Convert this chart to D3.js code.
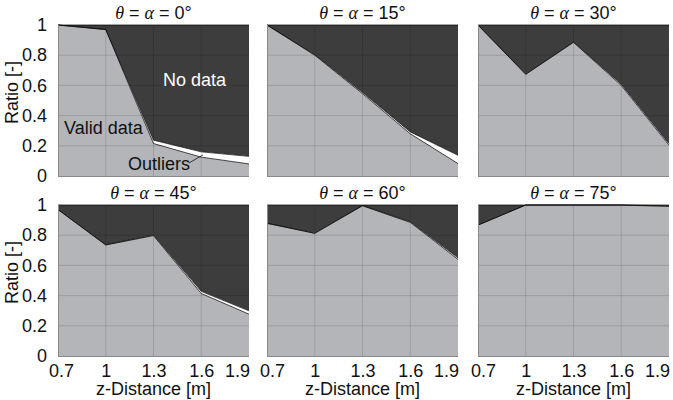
<!DOCTYPE html>
<html><head><meta charset="utf-8">
<script src="https://cdn.jsdelivr.net/npm/d3@7"></script>
<style>body{margin:0;background:#fff}svg{display:block}</style>
</head><body><svg id="c" width="673" height="400"></svg>
<script>
// ---- data ----
const distances = [0.7, 1.0, 1.3, 1.6, 1.9];           // z-Distance [m]
const angles = [0, 15, 30, 45, 60, 75];                // theta = alpha [deg]
const validRatio = [
  [1.000, 0.970, 0.215, 0.125, 0.080],
  [1.000, 0.800, 0.545, 0.280, 0.082],
  [1.000, 0.673, 0.885, 0.600, 0.204],
  [0.970, 0.735, 0.797, 0.414, 0.277],
  [0.879, 0.812, 0.995, 0.885, 0.640],
  [0.867, 1.000, 1.000, 1.000, 0.990]
];
const outlierRatio = [
  [0.000, 0.000, 0.022, 0.035, 0.050],
  [0.000, 0.003, 0.008, 0.012, 0.055],
  [0.000, 0.002, 0.003, 0.008, 0.010],
  [0.000, 0.002, 0.004, 0.014, 0.022],
  [0.000, 0.002, 0.002, 0.004, 0.010],
  [0.000, 0.000, 0.000, 0.000, 0.005]
];
const xTicks = [0.7, 1.0, 1.3, 1.6, 1.9];
const yTicks = [0, 0.2, 0.4, 0.6, 0.8, 1];

// ---- layout ----
const colX = [58, 267, 478], rowY = [25, 205], W = 191, H = 151;
const SANS = "'Liberation Sans', Arial, Helvetica, sans-serif";
const SERIF = "'Liberation Serif', 'Times New Roman', serif";
const FS = 18;
const cDark = "#3d3d3d", cLight = "#b4b5b9";

const svg = d3.select("#c");
svg.append("rect").attr("width", 673).attr("height", 400).attr("fill", "#fff");

const x = d3.scaleLinear().domain([0.7, 1.9]).range([0, W]);
const y = d3.scaleLinear().domain([0, 1]).range([H, 0]);

angles.forEach((ang, i) => {
  const col = i % 3, row = Math.floor(i / 3);
  const g = svg.append("g").attr("transform", `translate(${colX[col]},${rowY[row]})`);
  const rows = distances.map((d, k) => ({ d, v: validRatio[i][k], o: outlierRatio[i][k] }));

  const area = (lo, hi) => d3.area().x(r => x(r.d)).y0(r => y(lo(r))).y1(r => y(hi(r)));
  g.append("path").datum(rows).attr("fill", cDark)
    .attr("d", area(r => r.v + r.o, r => 1));
  g.append("path").datum(rows).attr("fill", "#fff")
    .attr("d", area(r => r.v, r => r.v + r.o));
  g.append("path").datum(rows).attr("fill", cLight)
    .attr("d", area(r => 0, r => r.v));

  // edges
  const line = f => d3.line().x(r => x(r.d)).y(r => y(f(r)));
  [r => r.v, r => r.v + r.o, r => 1].forEach(f => {
    g.append("path").datum(rows).attr("fill", "none").attr("stroke", "#000")
      .attr("stroke-width", 0.7).attr("d", line(f));
  });

  // grid
  const grid = g.append("g").attr("stroke", "rgba(0,0,0,0.13)").attr("stroke-width", 1);
  xTicks.slice(1, -1).forEach(t => grid.append("line")
    .attr("x1", x(t)).attr("x2", x(t)).attr("y1", 0).attr("y2", H));
  yTicks.slice(1, -1).forEach(t => grid.append("line")
    .attr("x1", 0).attr("x2", W).attr("y1", y(t)).attr("y2", y(t)));

  // axes lines
  g.append("line").attr("x1", 0.5).attr("x2", 0.5).attr("y1", 0).attr("y2", H + 0.5)
    .attr("stroke", "#888").attr("stroke-width", 1);
  g.append("line").attr("x1", 0).attr("x2", W).attr("y1", H + 0.5).attr("y2", H + 0.5)
    .attr("stroke", "#888").attr("stroke-width", 1);

  // title
  const t = g.append("text").attr("x", W / 2).attr("y", -6).attr("text-anchor", "middle")
    .attr("font-family", SANS).attr("font-size", FS).attr("fill", "#111");
  t.append("tspan").attr("font-family", SERIF).attr("font-style", "italic").text("θ");
  t.append("tspan").text(" = ");
  t.append("tspan").attr("font-family", SERIF).attr("font-style", "italic").text("α");
  t.append("tspan").text(` = ${ang}°`);

  // y axis labels
  if (col === 0) {
    const ya = g.append("g").call(d3.axisLeft(y).tickValues(yTicks).tickSize(0).tickPadding(11)
      .tickFormat(d => String(d)));
    ya.select(".domain").remove();
    ya.selectAll("text").attr("font-family", SANS).attr("font-size", FS).attr("fill", "#111");
    g.append("text").attr("transform", `translate(-40,${H / 2 - 8}) rotate(-90)`)
      .attr("text-anchor", "middle").attr("font-family", SANS).attr("font-size", FS)
      .attr("fill", "#111").text("Ratio [-]");
  }
  // x axis labels
  if (row === 1) {
    const xa = g.append("g").attr("transform", `translate(0,${H})`)
      .call(d3.axisBottom(x).tickValues(xTicks).tickSize(0).tickPadding(8)
        .tickFormat(d => String(d)));
    xa.select(".domain").remove();
    xa.selectAll("text").attr("font-family", SANS).attr("font-size", FS).attr("fill", "#111")
      .attr("dx", (d, k) => k === 0 ? (col === 0 ? 3 : 5) : k === xTicks.length - 1 ? (col === 2 ? -12 : -12) : 0);
    g.append("text").attr("x", W / 2).attr("y", H + 39).attr("text-anchor", "middle")
      .attr("font-family", SANS).attr("font-size", FS).attr("fill", "#111").text("z-Distance [m]");
  }

  // annotations (first panel)
  if (i === 0) {
    g.append("text").attr("x", 6).attr("y", 109).attr("font-family", SANS).attr("font-size", FS)
      .attr("fill", "#111").text("Valid data");
    g.append("text").attr("x", 105).attr("y", 61).attr("font-family", SANS).attr("font-size", FS)
      .attr("fill", "#fff").text("No data");
    g.append("text").attr("x", 70).attr("y", 145).attr("font-family", SANS).attr("font-size", FS)
      .attr("fill", "#111").text("Outliers");
    g.append("line").attr("x1", x(1.523)).attr("y1", y(0.086)).attr("x2", x(1.611)).attr("y2", y(0.14))
      .attr("stroke", "#111").attr("stroke-width", 0.8);
  }
});
</script></body></html>
